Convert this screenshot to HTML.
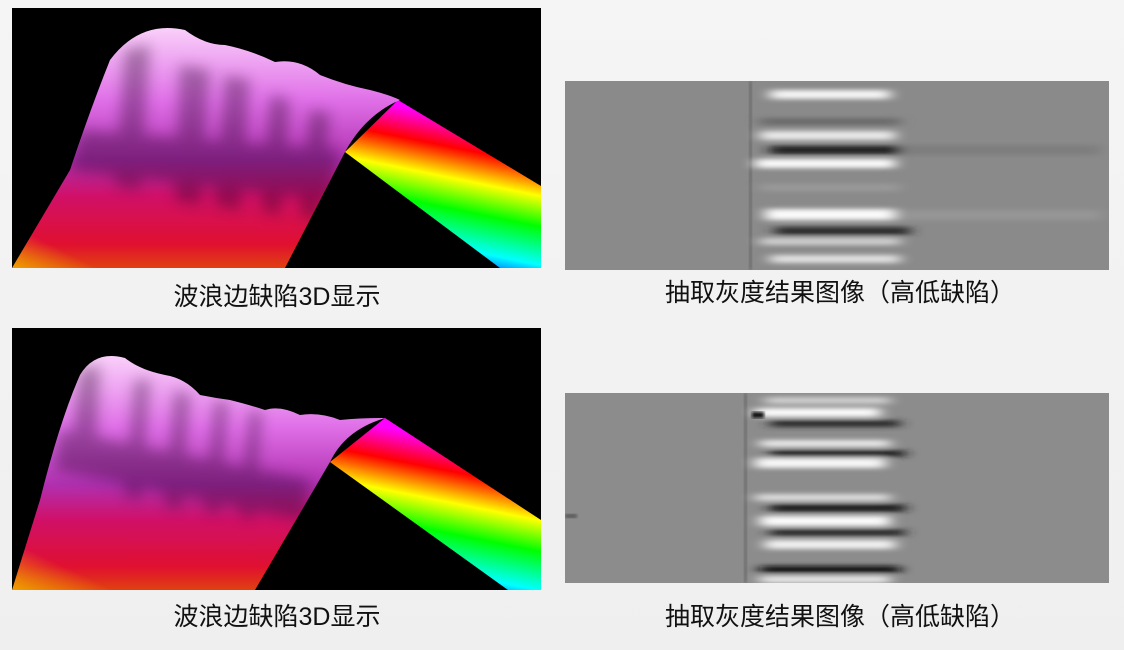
<!DOCTYPE html>
<html><head><meta charset="utf-8"><style>
html,body{margin:0;padding:0;width:1124px;height:650px;overflow:hidden;background:linear-gradient(180deg,#f5f5f5,#efefef);}
svg{position:absolute;left:0;top:0}
.cap{position:absolute;font-family:"Liberation Sans","Noto Sans CJK SC",sans-serif;font-size:25px;color:#111;white-space:nowrap;transform:translateX(-50%);line-height:30px}
</style></head><body>
<svg width="1124" height="650" viewBox="0 0 1124 650">
<defs>
<linearGradient id="pink" x1="0" y1="0" x2="0" y2="1">
<stop offset="0" stop-color="#fad0fa"/><stop offset="0.3" stop-color="#e070e8"/><stop offset="0.55" stop-color="#b030b0"/><stop offset="0.7" stop-color="#d01068"/><stop offset="0.9" stop-color="#e01030"/><stop offset="1" stop-color="#e04010"/>
</linearGradient>
<linearGradient id="rain1" gradientUnits="userSpaceOnUse" x1="470" y1="120" x2="440" y2="268">
<stop offset="0" stop-color="#ff00ff"/><stop offset="0.2" stop-color="#ff0000"/><stop offset="0.4" stop-color="#ffff00"/><stop offset="0.6" stop-color="#00ff00"/><stop offset="0.85" stop-color="#00ffff"/><stop offset="1" stop-color="#0030ff"/>
</linearGradient>
<linearGradient id="rain2" gradientUnits="userSpaceOnUse" x1="450" y1="440" x2="420" y2="590">
<stop offset="0" stop-color="#ff00ff"/><stop offset="0.2" stop-color="#ff0000"/><stop offset="0.4" stop-color="#ffff00"/><stop offset="0.6" stop-color="#00ff00"/><stop offset="0.85" stop-color="#00ffff"/><stop offset="1" stop-color="#0030ff"/>
</linearGradient>
<linearGradient id="orng" x1="0" y1="1" x2="0.4" y2="0.6">
<stop offset="0" stop-color="#f0a000"/><stop offset="1" stop-color="#f0a000" stop-opacity="0"/>
</linearGradient>
<filter id="blur" x="-50%" y="-50%" width="200%" height="200%"><feGaussianBlur stdDeviation="7"/></filter>
<filter id="blurE"><feGaussianBlur stdDeviation="1.5"/></filter>
<filter id="blur2" x="-20%" y="-50%" width="140%" height="200%"><feGaussianBlur stdDeviation="7 2.5"/></filter>
<clipPath id="c1"><rect x="565" y="81" width="544" height="189"/></clipPath>
<clipPath id="c2"><rect x="565" y="393" width="544" height="190"/></clipPath>
<clipPath id="a1"><path d="M12,268 L70,170 Q90,110 110,60 Q140,20 185,30 Q205,45 225,45 Q250,50 275,62 Q300,58 320,75 Q345,85 370,90 Q390,95 400,100 Q365,115 345,152 L285,268 Z"/></clipPath>
<clipPath id="a2"><path d="M12,590 L40,500 Q60,420 80,375 Q95,350 125,358 Q140,370 165,375 Q185,378 200,395 Q215,398 230,400 Q250,405 265,410 Q280,405 300,415 Q320,412 340,420 Q360,418 385,418 Q345,430 330,462 L255,590 Z"/></clipPath>
</defs>

<g>
<rect x="12" y="8" width="529" height="260" fill="#000"/>
<polygon points="398,100 541,186 541,268 500,268 345,152" fill="url(#rain1)"/>
<path d="M12,268 L70,170 Q90,110 110,60 Q140,20 185,30 Q205,45 225,45 Q250,50 275,62 Q300,58 320,75 Q345,85 370,90 Q390,95 400,100 Q365,115 345,152 L285,268 Z" fill="url(#pink)"/>
<g clip-path="url(#a1)">
<path d="M12,268 L40,215 L120,268 Z" fill="url(#orng)"/>
<g fill="#200020" opacity="0.35" filter="url(#blur)">
<polygon points="125,50 150,45 140,190 115,185"/><polygon points="180,65 210,70 200,205 175,200"/><polygon points="225,75 250,80 240,210 215,205"/><polygon points="270,95 290,100 280,215 262,210"/><polygon points="310,110 330,113 318,220 300,215"/><polygon points="80,130 340,150 330,200 70,170"/>
</g>
</g>
</g>

<g>
<rect x="12" y="328" width="529" height="262" fill="#000"/>
<polygon points="385,418 541,520 541,590 508,590 330,462" fill="url(#rain2)"/>
<path d="M12,590 L40,500 Q60,420 80,375 Q95,350 125,358 Q140,370 165,375 Q185,378 200,395 Q215,398 230,400 Q250,405 265,410 Q280,405 300,415 Q320,412 340,420 Q360,418 385,418 Q345,430 330,462 L255,590 Z" fill="url(#pink)"/>
<g clip-path="url(#a2)">
<path d="M12,590 L30,530 L140,590 Z" fill="url(#orng)"/>
<g fill="#200020" opacity="0.35" filter="url(#blur)">
<polygon points="80,370 100,365 95,470 70,460"/><polygon points="135,380 150,380 140,500 125,495"/><polygon points="175,390 190,395 180,510 165,505"/><polygon points="215,400 228,403 218,515 205,510"/><polygon points="250,410 262,413 252,520 240,515"/><polygon points="60,430 310,480 305,520 55,470"/>
</g>
</g>
</g>

<g clip-path="url(#c1)">
<rect x="565" y="81" width="544" height="189" fill="#8a8a8a"/>
<rect x="749" y="81" width="3" height="189" fill="#6a6a6a" filter="url(#blurE)"/>
<g filter="url(#blur2)">
<rect x="770" y="90" width="120" height="9" fill="#f4f4f4"/>
<rect x="760" y="118" width="140" height="7" fill="#6a6a6a"/>
<rect x="760" y="131" width="135" height="9" fill="#e8e8e8"/>
<rect x="770" y="146" width="135" height="8" fill="#1a1a1a"/>
<rect x="755" y="159" width="140" height="9" fill="#fafafa"/>
<rect x="760" y="184" width="140" height="7" fill="#9a9a9a"/>
<rect x="765" y="209" width="130" height="11" fill="#fafafa"/>
<rect x="775" y="227" width="135" height="8" fill="#2a2a2a"/>
<rect x="760" y="238" width="140" height="7" fill="#d0d0d0"/>
<rect x="770" y="255" width="130" height="8" fill="#e0e0e0"/>
<rect x="900" y="145" width="200" height="10" fill="#7e7e7e"/>
<rect x="900" y="210" width="200" height="10" fill="#969696"/>
</g>
</g>

<g clip-path="url(#c2)">
<rect x="565" y="393" width="544" height="190" fill="#8c8c8c"/>
<rect x="744" y="393" width="3" height="190" fill="#6a6a6a" filter="url(#blurE)"/>
<g filter="url(#blur2)">
<rect x="765" y="397" width="125" height="7" fill="#cfcfcf"/>
<rect x="755" y="408" width="125" height="9" fill="#fafafa"/>
<rect x="770" y="420" width="130" height="7" fill="#2a2a2a"/>
<rect x="760" y="440" width="130" height="7" fill="#e8e8e8"/>
<rect x="770" y="450" width="135" height="7" fill="#1a1a1a"/>
<rect x="755" y="458" width="130" height="10" fill="#f6f6f6"/>
<rect x="755" y="494" width="135" height="7" fill="#dcdcdc"/>
<rect x="770" y="504" width="135" height="8" fill="#1a1a1a"/>
<rect x="760" y="516" width="130" height="10" fill="#fafafa"/>
<rect x="770" y="529" width="135" height="7" fill="#2a2a2a"/>
<rect x="765" y="540" width="130" height="9" fill="#f0f0f0"/>
<rect x="760" y="566" width="140" height="7" fill="#101010"/>
<rect x="760" y="576" width="130" height="7" fill="#e8e8e8"/>
</g>
<rect x="752" y="412" width="12" height="6" fill="#101010" filter="url(#blurE)"/>
<rect x="565" y="514" width="12" height="4" fill="#555" filter="url(#blurE)"/>
</g>
</svg>
<div class="cap" style="left:277px;top:282px">波浪边缺陷3D显示</div>
<div class="cap" style="left:840px;top:278px">抽取灰度结果图像（高低缺陷）</div>
<div class="cap" style="left:277px;top:602px">波浪边缺陷3D显示</div>
<div class="cap" style="left:840px;top:602px">抽取灰度结果图像（高低缺陷）</div>
</body></html>
